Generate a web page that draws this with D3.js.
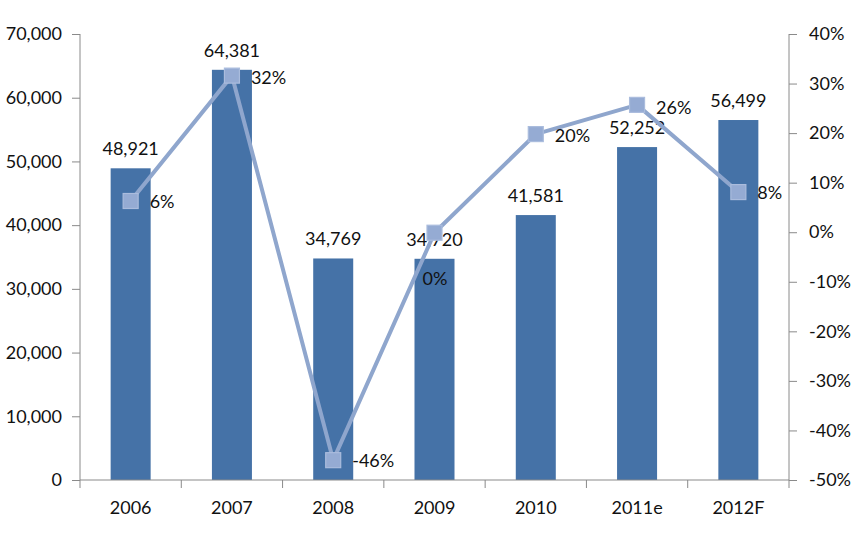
<!DOCTYPE html>
<html>
<head>
<meta charset="utf-8">
<script src="https://cdn.jsdelivr.net/npm/d3@7"></script>
<style>
  html,body{margin:0;padding:0;background:#fff;}
  text{font-family:Lato,"Open Sans",sans-serif;fill:#111;}
</style>
</head>
<body>
<svg id="chart" width="855" height="535"></svg>
<script>
/* ---------- DATA ---------- */
const YEARS=["2006","2007","2008","2009","2010","2011e","2012F"];
const VOLUMES=[48921,64381,34769,34720,41581,52252,56499];
const GROWTH=[0.063,0.316,-0.460,-0.001,0.198,0.257,0.081];
const LEFT_TICKS=[0,10000,20000,30000,40000,50000,60000,70000];
const RIGHT_TICKS=[-0.5,-0.4,-0.3,-0.2,-0.1,0,0.1,0.2,0.3,0.4];

/* ---------- CONFIG ---------- */
const BAR_COL="#4572A7", LINE_COL="#8FA6CD", MARK_COL="#95ABD3", MARK_EDGE="#AABCDD";
const AXIS_COL="#8a8a8a";
const M={top:34,right:66,bottom:55,left:80};
const W=855, H=535;
const FS=18;

const svg=d3.select("#chart");
const g=svg.append("g").attr("transform",`translate(${M.left},${M.top})`);
const iw=W-M.left-M.right, ih=H-M.top-M.bottom;

const x=d3.scaleBand().domain(YEARS).range([0,iw]).paddingInner(0.605).paddingOuter(0.3025);
const xb=d3.scaleBand().domain(YEARS).range([0,iw]);   /* tick boundaries */
const yL=d3.scaleLinear().domain([0,70000]).range([ih,0]);
const yR=d3.scaleLinear().domain([-0.5,0.4]).range([ih,0]);

/* hyphen instead of unicode minus, like the original */
const pct=v=>d3.format(".0%")(v).replace("\u2212","-");
const fmt=d3.format(",");

/* bars */
g.selectAll("rect.bar").data(YEARS).enter().append("rect").attr("class","bar")
  .attr("x",d=>x(d)).attr("width",x.bandwidth())
  .attr("y",(d,i)=>yL(VOLUMES[i])).attr("height",(d,i)=>ih-yL(VOLUMES[i]))
  .attr("fill",BAR_COL);

/* axes */
const axL=g.append("g").call(d3.axisLeft(yL).tickValues(LEFT_TICKS).tickFormat(fmt).tickSize(8).tickPadding(10));
const axR=g.append("g").attr("transform",`translate(${iw},0)`)
  .call(d3.axisRight(yR).tickValues(RIGHT_TICKS).tickFormat(pct).tickSize(8).tickPadding(12));
const axB=g.append("g").attr("transform",`translate(0,${ih})`)
  .call(d3.axisBottom(xb).tickSize(0).tickPadding(21));
/* category boundary ticks */
g.append("g").selectAll("line").data([...YEARS.map(d=>xb(d)),iw]).enter().append("line")
  .attr("x1",d=>d).attr("x2",d=>d).attr("y1",ih).attr("y2",ih+8)
  .attr("stroke",AXIS_COL);
[axL,axR,axB].forEach(a=>{
  a.selectAll("path,line").attr("stroke",AXIS_COL);
  a.select(".domain").attr("d",null);
  a.selectAll("text").style("font-size",FS+"px").style("font-family","Lato,'Open Sans',sans-serif").attr("fill","#111");
});
/* axis lines */
g.append("line").attr("x1",0).attr("x2",0).attr("y1",0).attr("y2",ih).attr("stroke",AXIS_COL);
g.append("line").attr("x1",iw).attr("x2",iw).attr("y1",0).attr("y2",ih).attr("stroke",AXIS_COL);
g.append("line").attr("x1",0).attr("x2",iw).attr("y1",ih).attr("y2",ih).attr("stroke",AXIS_COL);

/* bar labels */
g.selectAll("text.blab").data(YEARS).enter().append("text").attr("class","blab")
  .attr("x",d=>x(d)+x.bandwidth()/2).attr("y",(d,i)=>yL(VOLUMES[i])-20)
  .attr("text-anchor","middle").attr("dominant-baseline","central")
  .style("font-size",FS+"px").text((d,i)=>fmt(VOLUMES[i]));

/* growth line */
const cx=d=>xb(d)+xb.bandwidth()/2;
const line=d3.line().x((d,i)=>cx(YEARS[i])).y(d=>yR(d));
g.append("path").datum(GROWTH).attr("d",line)
  .attr("fill","none").attr("stroke",LINE_COL).attr("stroke-width",4).attr("stroke-linejoin","round");

g.selectAll("rect.mk").data(YEARS).enter().append("rect").attr("class","mk")
  .attr("x",d=>cx(d)-7.5).attr("y",(d,i)=>yR(GROWTH[i])-7.5)
  .attr("width",15).attr("height",15)
  .attr("fill",MARK_COL).attr("stroke",MARK_EDGE).attr("stroke-width",1.2);

/* growth labels (2009 label sits lower, as in the original) */
const LAB_DX=[19,19,19,-12,19,19,19], LAB_DY=[0,1,0,45,1,2,0];
g.selectAll("text.glab").data(YEARS).enter().append("text").attr("class","glab")
  .attr("x",(d,i)=>cx(d)+LAB_DX[i]).attr("y",(d,i)=>yR(GROWTH[i])+LAB_DY[i])
  .attr("dominant-baseline","central")
  .style("font-size",FS+"px").text((d,i)=>pct(GROWTH[i]));
</script>
</body>
</html>
